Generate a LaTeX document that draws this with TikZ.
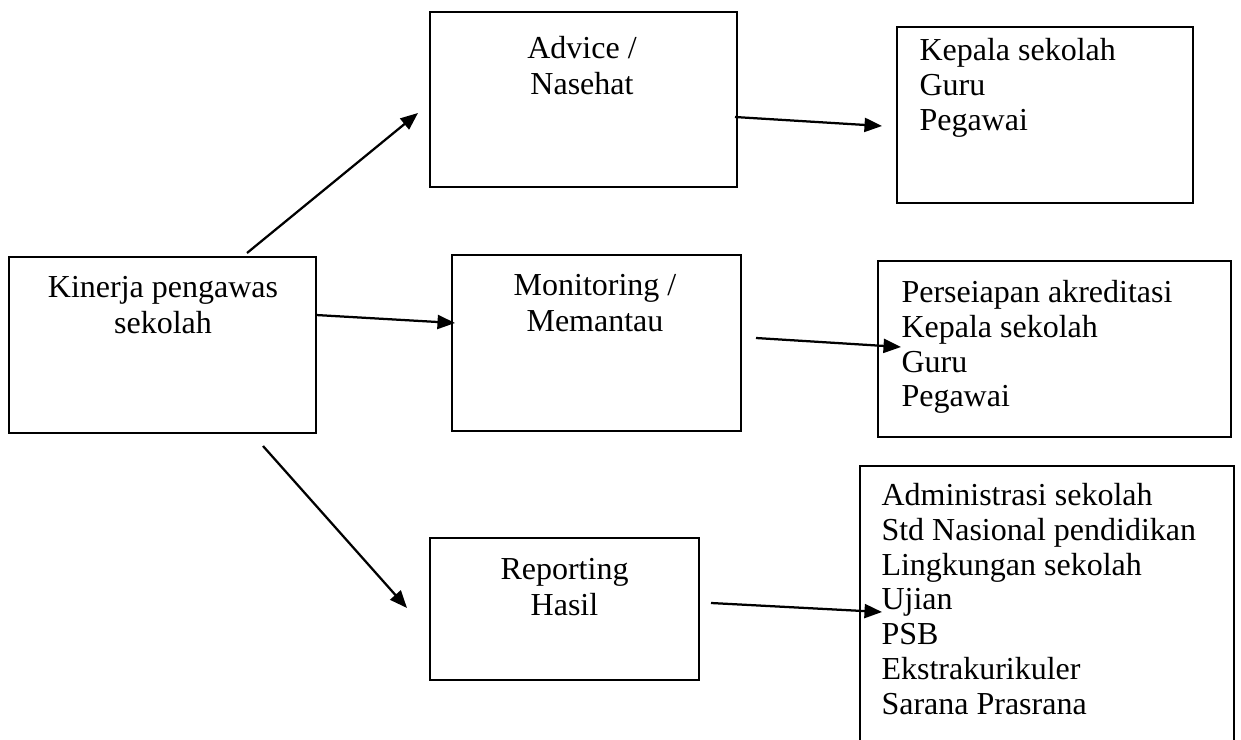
\documentclass[tikz,border=0pt]{standalone}
\usepackage{fontspec}
\setmainfont{Liberation Serif}
\usetikzlibrary{arrows.meta,fit}
\begin{document}
\begin{tikzpicture}[x=0.4pt,y=-0.4pt,
  box/.style={draw, line width=0.75pt, inner sep=0pt},
  ctxt/.style={inner sep=0pt, anchor=north, align=center, font=\fontsize{12.8}{14.4}\selectfont},
  ltxt/.style={inner sep=0pt, anchor=north west, align=left, font=\fontsize{12.8}{13.9}\selectfont},
  arr/.style={line width=0.9pt, -{Triangle[length=7pt,width=5.6pt]}}]
\useasboundingbox (0,0) rectangle (1241,740);
\clip (0,0) rectangle (1241,740);
% boxes
\node[box, fit={(430,12) (737,187)}] (advice) {};
\node[box, fit={(897,27) (1193,203)}] (kepala) {};
\node[box, fit={(9,257) (316,433)}] (kinerja) {};
\node[box, fit={(452,255) (741,431)}] (monitor) {};
\node[box, fit={(878,261) (1231,437)}] (persiap) {};
\node[box, fit={(430,538) (699,680)}] (report) {};
\node[box, fit={(860,466) (1234,760)}] (admin) {};
% texts
\node[ctxt] (adviceT) at (582,36) {Advice /\\Nasehat};
\node[ltxt] (kepalaT) at (919,38) {Kepala sekolah\\Guru\\Pegawai};
\node[ctxt] (kinerjaT) at (163,276) {Kinerja pengawas\\sekolah};
\node[ctxt] (monitorT) at (595,274) {Monitoring /\\Memantau};
\node[ltxt] (persiapT) at (901,280) {Perseiapan akreditasi\\Kepala sekolah\\Guru\\Pegawai};
\node[ctxt] (reportT) at (564.5,558) {Reporting\\Hasil};
\node[ltxt] (adminT) at (881,483) {Administrasi sekolah\\Std Nasional pendidikan\\Lingkungan sekolah\\Ujian\\PSB\\Ekstrakurikuler\\Sarana Prasrana};
% connector ends
\coordinate (a1s) at (247,253); \coordinate (a1e) at (418,113);
\coordinate (a2s) at (735,117); \coordinate (a2e) at (882,126);
\coordinate (a3s) at (316,315); \coordinate (a3e) at (455,323);
\coordinate (a4s) at (756,338); \coordinate (a4e) at (901,347);
\coordinate (a5s) at (263,446); \coordinate (a5e) at (407,608);
\coordinate (a6s) at (711,603); \coordinate (a6e) at (882,612);
\draw[arr] (a1s) -- (a1e);
\draw[arr] (a2s) -- (a2e);
\draw[arr] (a3s) -- (a3e);
\draw[arr] (a4s) -- (a4e);
\draw[arr] (a5s) -- (a5e);
\draw[arr] (a6s) -- (a6e);
\end{tikzpicture}
\end{document}
